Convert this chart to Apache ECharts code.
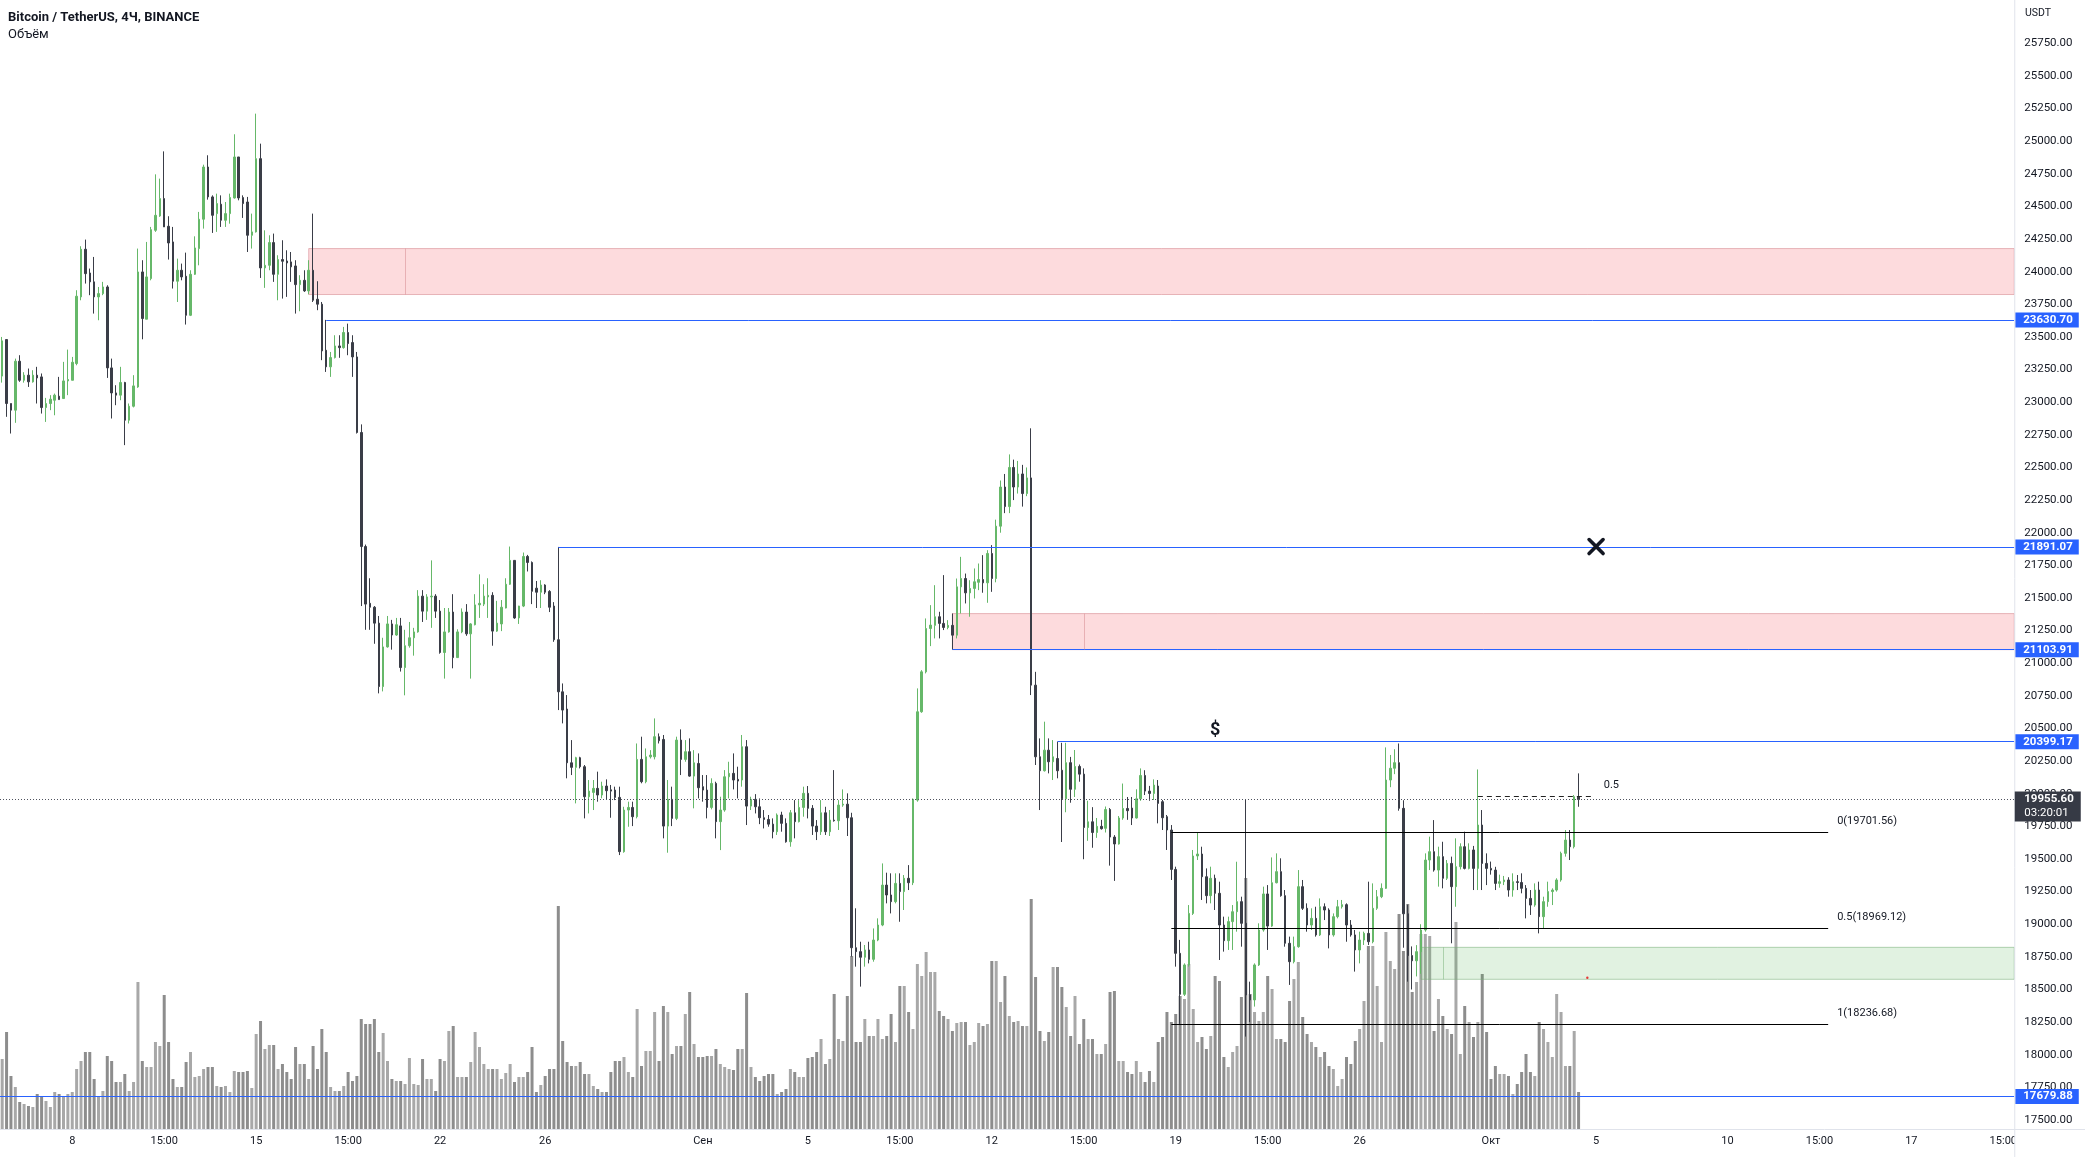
<!DOCTYPE html>
<html><head><meta charset="utf-8">
<script src="https://cdn.jsdelivr.net/npm/echarts@6/dist/echarts.min.js"></script>
<style>html,body{margin:0;padding:0;background:#fff;overflow:hidden}#c{width:2085px;height:1157px}</style>
</head><body><div id="c"></div>
<script>
// ---------- DATA ----------
// 4H candles starting 2022-08-05 11:00 (UTC+3): [open, high, low, close]
const candles = [
[23200,23500,23150,23470],[23480,23480,22888,22990],[22990,22990,22760,22939],[22939,23334,22842,23314],[23314,23360,23156,23168],
[23168,23230,23150,23207],[23207,23258,23117,23156],[23156,23245,23150,23207],[23207,23271,22990,23186],[23194,23220,22913,22959],
[22959,23033,22849,22990],[22990,23054,22939,23023],[23015,23066,22900,23054],[23046,23194,23020,23020],[23028,23309,23028,23163],
[23163,23403,23054,23174],[23168,23347,23168,23306],[23296,23858,23283,23812],[23807,24195,23781,24172],[24172,24246,23909,23985],
[23990,24024,23820,23922],[23922,24113,23679,23807],[23807,23883,23628,23832],[23832,23922,23820,23883],[23883,23896,23186,23263],
[23263,23334,22875,23071],[23071,23130,22977,23054],[23054,23271,23015,23151],[23151,23156,22671,22862],[22862,22990,22837,22969],
[22969,23207,22960,23125],[23117,24177,23110,23998],[23998,24088,23482,23641],[23636,24228,23636,23960],[23947,24343,23934,24322],
[24317,24746,24305,24432],[24427,24713,24420,24560],[24560,24922,24343,24343],[24348,24425,24093,24220],[24228,24343,23871,23927],
[23927,24100,23768,24011],[24011,24062,23934,23960],[23965,24146,23595,23666],[23666,24011,23660,23980],[23980,24271,23975,24182],
[24177,24458,24049,24402],[24402,24820,24330,24802],[24802,24892,24552,24573],[24573,24585,24297,24432],[24445,24598,24305,24522],
[24517,24585,24343,24394],[24394,24534,24343,24445],[24445,24598,24368,24568],[24565,25053,24560,24879],[24879,24879,24547,24565],
[24568,24585,24412,24522],[24534,24573,24151,24279],[24279,24445,24177,24305],[24305,25211,24300,24866],[24866,24981,23952,24029],
[24029,24317,23876,24049],[24049,24279,24011,24223],[24223,24292,23922,23980],[23980,24126,23781,24093],[24093,24241,23794,24080],
[24082,24164,23807,24067],[24075,24151,23922,24037],[24044,24088,23679,23901],[23901,23973,23697,23934],[23934,24011,23845,23853],
[23853,24088,23827,24011],[24011,24445,23768,23781],[23789,23927,23705,23751],[23751,23768,23322,23393],[23398,23630.7,23232,23271],
[23271,23385,23194,23342],[23342,23513,23335,23431],[23431,23513,23340,23418],[23418,23577,23410,23534],[23534,23602,23360,23449],
[23457,23513,23194,23347],[23347,23385,22760,22768],[22768,22830,21438,21894],[21894,21909,21256,21453],[21459,21651,21256,21429],
[21429,21438,21149,21307],[21307,21362,20769,20821],[20821,21195,20784,21125],[21125,21362,21119,21301],[21301,21332,21104,21216],
[21216,21347,21210,21295],[21286,21347,20936,20967],[20967,21256,20754,21134],[21134,21316,21119,21195],[21195,21271,21058,21240],
[21240,21560,21234,21514],[21514,21560,21316,21399],[21399,21529,21332,21508],[21508,21788,21271,21514],[21514,21529,21347,21399],
[21399,21484,21073,21082],[21082,21423,20882,21240],[21240,21423,21234,21392],[21392,21529,20961,21043],[21043,21260,21040,21240],
[21240,21420,21230,21392],[21392,21453,21210,21225],[21225,21307,20882,21301],[21295,21529,21290,21447],[21447,21681,21347,21459],
[21453,21605,21438,21514],[21508,21651,21347,21520],[21520,21544,21134,21246],[21246,21478,21240,21307],[21301,21484,21246,21429],
[21423,21651,21420,21605],[21605,21894,21600,21788],[21788,21790,21340,21347],[21347,21440,21301,21438],[21438,21848,21430,21818],
[21818,21830,21703,21772],[21772,21780,21453,21551],[21575,21630,21423,21544],[21544,21636,21423,21599],[21599,21605,21529,21544],
[21550,21560,21392,21429],[21438,21468,21164,21180],[21180,21891.07,20641,20781],[20781,20845,20539,20641],[20649,20756,20118,20237],
[20237,20411,20143,20202],[20202,20283,19926,20276],[20276,20283,20194,20207],[20207,20220,19811,19977],[19977,20105,19849,20020],
[20010,20105,19875,20041],[20041,20169,19939,19990],[19990,20092,19965,20059],[20059,20110,19957,20023],[20030,20067,19816,20020],
[20028,20054,19951,19972],[19972,20054,19530,19556],[19556,19900,19548,19875],[19875,19939,19747,19895],[19895,19939,19752,19824],
[19824,20385,19811,20263],[20263,20437,20080,20092],[20092,20347,20080,20283],[20283,20334,20270,20296],[20283,20577,20263,20437],
[20437,20462,20385,20406],[20416,20450,19658,19752],[19752,20105,19548,19957],[19957,20054,19752,19811],[19811,20437,19798,20411],
[20411,20493,20143,20263],[20263,20411,20245,20322],[20322,20424,20130,20135],[20135,20334,19888,20237],[20232,20309,19964,20046],
[20054,20143,19939,20028],[20028,20143,19811,19895],[19895,20118,19880,20079],[20079,20092,19658,19786],[19786,19977,19568,19875],
[19875,20181,19862,20130],[20130,20245,19964,20156],[20156,20309,20033,20105],[20110,20207,19964,20097],[20105,20450,20054,20360],
[20360,20411,19760,19905],[19905,19977,19875,19957],[19957,19997,19849,19900],[19900,19964,19767,19816],[19816,19875,19734,19803],
[19803,19837,19747,19767],[19767,19811,19658,19709],[19709,19849,19684,19837],[19837,19862,19709,19773],[19773,19811,19625,19632],
[19632,19875,19594,19854],[19854,19951,19658,19786],[19786,19951,19780,19895],[19895,20054,19824,20003],[20003,20059,19811,19888],
[19888,19913,19684,19752],[19752,19798,19645,19709],[19709,19951,19684,19854],[19854,19900,19684,19709],[19709,19875,19676,19798],
[19798,20181,19786,19793],[19793,19951,19722,19913],[19913,20033,19900,19920],[19920,20003,19676,19816],[19816,19854,18752,18820],
[18820,19122,18675,18790],[18790,18866,18522,18747],[18747,18841,18675,18803],[18803,18866,18700,18731],[18731,18968,18713,18879],
[18879,19045,18870,18994],[18994,19466,18985,19300],[19300,19395,19160,19224],[19224,19390,19083,19173],[19173,19390,19160,19313],
[19313,19390,19019,19250],[19250,19377,19109,19352],[19352,19453,19262,19318],[19318,19964,19300,19957],[19951,20807,19939,20628],
[20628,20947,20620,20934],[20934,21343,20922,21266],[21266,21445,21131,21292],[21290,21598,21190,21356],[21356,21394,21190,21305],
[21305,21675,21254,21274],[21274,21330,21260,21290],[21290,21381,21103.91,21215],[21215,21649,21190,21585],[21585,21815,21381,21649],
[21649,21687,21458,21539],[21539,21636,21356,21573],[21573,21726,21496,21624],[21620,21764,21560,21641],[21641,21828,21540,21616],
[21616,21866,21463,21841],[21841,21905,21547,21649],[21649,22100,21620,22050],[22050,22400,22000,22350],[22350,22450,22150,22200],
[22200,22600,22150,22500],[22500,22560,22250,22350],[22350,22550,22300,22450],[22450,22520,22200,22300],[22300,22500,22280,22420],
[22420,22800,20756,20832],[20832,20934,20220,20283],[20283,20424,19875,20176],[20176,20552,20170,20334],[20334,20424,20156,20245],
[20245,20411,20105,20283],[20270,20399.17,20118,20176],[20180,20390,19630,19961],[19961,20390,19858,20238],[20238,20282,19931,20034],
[20034,20335,19975,20209],[20209,20224,20092,20150],[20150,20194,19498,19741],[19741,19946,19639,19785],[19785,19897,19586,19703],
[19703,19814,19662,19750],[19750,19800,19725,19732],[19735,19902,19703,19879],[19879,19890,19449,19668],[19668,19683,19332,19615],
[19615,19829,19610,19814],[19814,20078,19800,19887],[19887,19975,19800,19870],[19890,19975,19760,19814],[19814,20034,19810,19961],
[19961,20194,19946,20140],[20140,20180,19990,20020],[20020,20060,19946,20002],[20002,20110,19952,20066],[20059,20105,19773,19926],
[19939,19952,19722,19816],[19824,19837,19569,19722],[19722,19760,19339,19420],[19420,19441,18675,18777],[18777,18880,18236.68,18463],
[18463,18700,18450,18688],[18688,19147,18675,19083],[19083,19569,19071,19523],[19523,19701.56,19492,19538],[19538,19594,19186,19364],
[19364,19428,19160,19219],[19219,19441,19160,19352],[19352,19380,19109,19237],[19237,19326,18726,18994],[18994,19058,18790,18874],
[18874,19058,18803,19020],[19020,19147,18803,19096],[19096,19479,18943,19173],[19173,19211,18828,19007],[19007,19957,18139,18458],
[18458,18560,18250,18420],[18420,18700,18369,18688],[18688,19007,18680,18956],[18956,19288,18943,19232],[19232,19300,18803,18986],
[18986,19512,18980,19318],[19318,19543,19313,19403],[19403,19505,19211,19219],[19219,19262,18828,18854],[18854,18905,18535,18713],
[18713,18905,18700,18828],[18828,19415,18820,19288],[19288,19339,19109,19122],[19122,19160,18943,18994],[18994,19122,18956,19045],
[19045,19134,18905,18918],[18918,19198,18910,19134],[19134,19160,19032,19109],[19109,19122,18815,18918],[18918,19083,18905,19058],
[19058,19186,19045,19134],[19134,19186,19120,19150],[19150,19160,18866,18994],[18994,19032,18905,18918],[18918,18956,18637,18803],
[18803,18943,18700,18879],[18879,18943,18841,18930],[18930,19326,18841,18866],[18866,19313,18854,19122],[19122,19262,19110,19211],
[19211,19313,19200,19275],[19275,20355,19270,20105],[20105,20297,20050,20195],[20195,20341,20150,20238],[20238,20385,19870,19888],
[19888,19950,18820,19080],[19080,19150,18560,18760],[18760,18830,18500,18720],[18720,18840,18600,18790],[18790,19000,18620,18956],
[18956,19543,18943,19492],[19492,19671,19415,19556],[19556,19798,19403,19415],[19415,19594,19288,19518],[19518,19632,19275,19352],
[19352,19492,19339,19466],[19466,19518,18854,19288],[19288,19658,19134,19441],[19441,19620,19420,19594],[19594,19709,19420,19428],
[19428,19620,19420,19569],[19569,19600,19262,19428],[19428,20186,19262,19760],[19760,19875,19262,19466],[19466,19543,19300,19428],
[19428,19480,19380,19415],[19415,19440,19262,19313],[19313,19380,19280,19326],[19326,19370,19300,19339],[19339,19360,19211,19262],
[19262,19390,19211,19326],[19326,19377,19262,19320],[19320,19390,19237,19275],[19275,19300,19045,19198],[19198,19262,19071,19147],
[19147,19313,19134,19262],[19262,19326,18930,19058],[19058,19211,18969,19173],[19173,19326,19134,19250],[19250,19275,19147,19262],
[19262,19352,19250,19339],[19339,19556,19326,19543],[19543,19722,19518,19645],[19645,19722,19492,19594],[19594,19990,19581,19977],
[19977,20156,19900,19955.6]
];
// relative volume per candle (estimated bar heights)
const volumes = [
70,97,53,42,27,25,23,22,35,32,28,22,37,35,33,35,37,60,68,77,77,50,32,38,73,68,47,47,55,38,
47,147,68,62,62,87,83,134,87,50,42,42,67,77,52,53,60,62,62,43,42,43,37,58,57,57,58,41,95,108,
80,84,84,60,65,57,50,82,65,65,50,83,60,100,77,42,38,38,43,57,48,53,110,105,105,110,77,96,68,50,
48,48,45,71,45,44,70,50,50,38,70,68,98,103,52,52,52,67,97,82,65,60,60,60,50,56,65,47,52,52,
57,82,37,44,53,60,60,223,88,67,63,63,67,55,55,43,40,37,37,57,68,68,72,57,52,120,63,78,78,117,
68,123,117,75,83,83,115,137,85,72,72,73,73,80,65,62,60,59,80,80,136,62,52,48,53,55,55,35,37,40,
60,57,52,52,71,72,77,90,65,70,135,90,88,133,173,87,87,110,93,93,110,90,93,115,87,143,143,117,100,165,
153,177,157,157,118,113,110,98,106,107,107,84,87,106,103,105,168,168,127,153,113,107,108,103,103,230,152,98,88,97,
162,162,142,122,93,133,85,110,90,90,75,75,85,137,138,68,68,57,55,68,57,47,58,47,87,92,117,107,115,133,
130,165,120,87,92,80,93,153,148,72,62,77,83,132,251,135,117,108,117,153,140,90,90,87,128,150,167,112,95,87,
82,72,77,63,60,43,50,72,65,88,100,128,183,183,143,87,197,168,160,215,178,225,137,147,195,195,193,98,130,113,
100,95,207,75,123,107,92,107,155,97,50,63,55,55,53,35,45,57,75,57,53,107,100,87,72,135,117,63,63,98,
37
];
const timeTicks = [
['2022-08-08 03:00','8'],['2022-08-11 15:00','15:00'],['2022-08-15 03:00','15'],['2022-08-18 15:00','15:00'],
['2022-08-22 03:00','22'],['2022-08-26 03:00','26'],['2022-09-01 03:00','Сен'],['2022-09-05 03:00','5'],
['2022-09-08 15:00','15:00'],['2022-09-12 03:00','12'],['2022-09-15 15:00','15:00'],['2022-09-19 03:00','19'],
['2022-09-22 15:00','15:00'],['2022-09-26 03:00','26'],['2022-10-01 03:00','Окт'],['2022-10-05 03:00','5'],
['2022-10-10 03:00','10'],['2022-10-13 15:00','15:00'],['2022-10-17 03:00','17'],['2022-10-20 15:00','15:00']
];
const priceTicks = [17500,17750,18000,18250,18500,18750,19000,19250,19500,19750,20000,20250,20500,20750,21000,21250,21500,21750,22000,22250,22500,22750,23000,23250,23500,23750,24000,24250,24500,24750,25000,25250,25500,25750];
// horizontal blue levels: [start time (null = whole width), price]
const blueLevels = [['2022-08-17 19:00',23630.70],['2022-08-26 15:00',21891.07],['2022-09-10 15:00',21103.91],['2022-09-14 15:00',20399.17],[null,17679.88]];
// rectangles: [from, inner edge, top, bottom, kind]
const zones = [['2022-08-17 03:00','2022-08-20 19:00',24177,23825,'red'],['2022-09-10 15:00','2022-09-15 15:00',21380,21103.91,'red'],['2022-09-28 11:00','2022-09-29 07:00',18823,18578,'green']];
// fib levels
const fibLevels = [['0',19701.56],['0.5',18969.12],['1',18236.68]];
const fibSpan = ['2022-09-18 23:00','2022-10-13 23:00'];
const dashLevel = ['2022-09-30 15:00','2022-10-04 23:00',19982,'0.5'];
const lastPrice = 19955.60, timer = '03:20:01';
const marks = [['$','2022-09-20 15:00',20488],['x','2022-10-05 03:00',21894],['dot','2022-10-04 19:00',18590]];

// ---------- CHART ----------
const FONT = 'Roboto, "Liberation Sans", Arial, sans-serif';
const SLOTS = 460, GL = -4.8, GR = 2014.26, SLOT = (GR-GL)/SLOTS;
const UP = '#66b869', DOWN = '#3a3d47';
const pad = n => String(n).padStart(2,'0');
const categories = [];
const t0 = Date.UTC(2022,7,5,11,0);
for (let i=0;i<SLOTS;i++){const d=new Date(t0+i*4*3600e3);categories.push(d.getUTCFullYear()+'-'+pad(d.getUTCMonth()+1)+'-'+pad(d.getUTCDate())+' '+pad(d.getUTCHours())+':'+pad(d.getUTCMinutes()));}
const ix = t => categories.indexOf(t);
const tickMap = new Map(timeTicks);
const LAST = SLOTS-1;

const kData = candles.map(([o,h,l,c]) => [o,c,Math.min(l,o,c),Math.max(h,o,c)]);
const vData = volumes.map((v,i)=>({value:v,itemStyle:{color: candles[i][3]>=candles[i][0] ? '#a8a8a8' : '#8d8d8d'}}));

const mlData = [];
blueLevels.forEach(([t,v])=>{
  const s = t ? {coord:[ix(t),v]} : {coord:[0,v], x:0};
  mlData.push([Object.assign(s,{lineStyle:{color:'#2962ff',width:1,type:'solid'},
    label:{show:true,position:'end',distance:1,formatter:v.toFixed(2),color:'#fff',backgroundColor:'#2962ff',fontWeight:'bold',fontSize:11.5,fontFamily:FONT,padding:[2,6,1,8]}}),
    {coord:[LAST,v],x:GR}]);
});
mlData.push([{coord:[0,lastPrice],x:0,lineStyle:{color:'#50535e',width:1,type:[1,2]}},{coord:[LAST,lastPrice],x:GR}]);
fibLevels.forEach(([n,v])=>{mlData.push([{coord:[ix(fibSpan[0]),v],lineStyle:{color:'#000',width:1,type:'solid'}},{coord:[ix(fibSpan[1]),v]}]);});
mlData.push([{coord:[ix(dashLevel[0]),dashLevel[2]],lineStyle:{color:'#222',width:1,type:[5,4]}},{coord:[ix(dashLevel[1]),dashLevel[2]]}]);
zones.forEach(([f,m,top,bot,k])=>{mlData.push([{coord:[ix(m),top],lineStyle:{color:k==='red'?'rgba(215,140,146,0.55)':'rgba(120,175,120,0.5)',width:1,type:'solid'}},{coord:[ix(m),bot]}]);});

const maData = zones.map(([f,m,top,bot,k])=>[
  {coord:[ix(f),top],itemStyle:{color:k==='red'?'rgba(242,54,69,0.18)':'rgba(76,175,80,0.17)',borderColor:k==='red'?'rgba(215,140,146,0.6)':'rgba(120,175,120,0.55)',borderWidth:1}},
  {coord:[LAST,bot],x:GR}]);

const chart = echarts.init(document.getElementById('c'));
chart.setOption({
  animation:false, backgroundColor:'#ffffff',
  grid:{left:GL, top:0, width:GR-GL, bottom:28},
  xAxis:{type:'category',data:categories,boundaryGap:true,axisLine:{show:false},axisTick:{show:false},splitLine:{show:false},
    axisLabel:{interval:(i,v)=>tickMap.has(v),formatter:(v)=>tickMap.get(v)||'',color:'#131722',fontSize:11,margin:7,fontFamily:FONT}},
  yAxis:[{type:'value',position:'right',min:17431,max:26081.8,axisLine:{show:false},axisTick:{show:false},splitLine:{show:false},
      axisLabel:{customValues:priceTicks,formatter:v=>v.toFixed(2),color:'#131722',fontSize:11.5,margin:10,fontFamily:FONT}},
    {type:'value',min:0,max:1129,show:false}],
  series:[
    {type:'bar',xAxisIndex:0,yAxisIndex:1,data:vData,barWidth:3,silent:true,z:1},
    {type:'candlestick',data:kData,barWidth:2,silent:true,z:3,
      itemStyle:{color:UP,color0:DOWN,borderColor:UP,borderColor0:DOWN,borderWidth:1},
      markArea:{silent:true,label:{show:false},data:maData,z:2},
      markLine:{silent:true,symbol:['none','none'],label:{show:false},animation:false,data:mlData,z:5}}
  ]
});

const P = (t,v)=>chart.convertToPixel({xAxisIndex:0,yAxisIndex:0},[typeof t==='number'?t:ix(t),v]);
const els = [];
const txt = (x,y,s,font,fill,align,va,z)=>({type:'text',x:x,y:y,z:z||50,silent:true,style:{text:s,font:font,fill:fill,align:align||'left',verticalAlign:va||'middle',textAlign:align||'left',textVerticalAlign:va||'middle'}});
els.push(txt(8,17.5,'Bitcoin / TetherUS, 4Ч, BINANCE','bold 13px '+FONT,'#131722'));
els.push(txt(8,35,'Объём','13px '+FONT,'#131722'));
els.push(txt(2025,13,'USDT','10.5px '+FONT,'#131722'));
fibLevels.forEach(([n,v])=>{const p=P(fibSpan[1],v);els.push(txt(p[0]+9,p[1]-11,n+'('+v.toFixed(2)+')','11px '+FONT,'#131722'));});
{const p=P(dashLevel[1],dashLevel[2]);els.push(txt(p[0]+12,p[1]-11,dashLevel[3],'11px '+FONT,'#131722'));}
marks.forEach(([k,t,v])=>{const p=P(t,v);
  if(k==='$') els.push(txt(p[0],p[1],'$','bold 18px '+FONT,'#131722','center','middle'));
  else if(k==='x'){const s=7;[[-s,-s,s,s],[-s,s,s,-s]].forEach(a=>els.push({type:'line',z:50,silent:true,shape:{x1:p[0]+a[0],y1:p[1]+a[1],x2:p[0]+a[2],y2:p[1]+a[3]},style:{stroke:'#131722',lineWidth:3.6,lineCap:'round'}}));}
  else els.push({type:'circle',z:50,silent:true,shape:{cx:p[0],cy:p[1],r:1.2},style:{fill:'#e53935'}});
});
{const y=P(0,lastPrice)[1];
 els.push({type:'rect',z:60,silent:true,shape:{x:GR+0.5,y:y-8,width:66,height:30},style:{fill:'#363a45'}});
 els.push(txt(GR+10,y,lastPrice.toFixed(2),'bold 11.5px '+FONT,'#ffffff','left','middle',61));
 els.push(txt(GR+10,y+14,timer,'11.5px '+FONT,'#ffffff','left','middle',61));}
els.push({type:'rect',z:40,silent:true,shape:{x:GR+0.5,y:1130,width:80,height:30},style:{fill:'#ffffff'}});
els.push({type:'line',z:45,silent:true,shape:{x1:0,y1:1129.5,x2:2085,y2:1129.5},style:{stroke:'#e0e3eb',lineWidth:1}});
els.push({type:'line',z:45,silent:true,shape:{x1:GR+0.5,y1:0,x2:GR+0.5,y2:1157},style:{stroke:'#e0e3eb',lineWidth:1}});
chart.setOption({graphic:{elements:els}});
</script></body></html>
